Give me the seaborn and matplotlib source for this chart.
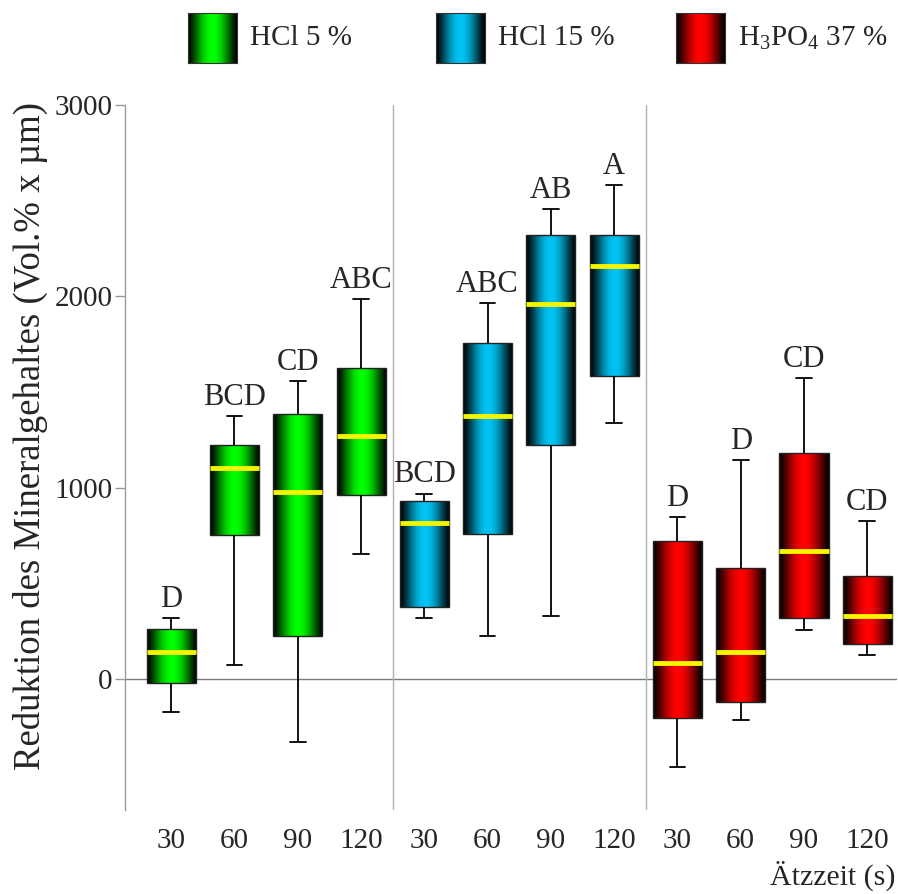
import numpy as np
import pandas as pd
import matplotlib
matplotlib.use("Agg")
import matplotlib.pyplot as plt
from matplotlib.colors import to_rgb
import seaborn as sns

# Etching agents and etching times
groups = ["HCl 5 %", "HCl 15 %", "H3PO4 37 %"]
group_labels = ["HCl 5 %", "HCl 15 %", "H$_3$PO$_4$ 37 %"]
times = [30, 60, 90, 120]

# Box statistics (mineral loss, Vol.% x µm), one row per etching agent
whisker_low = [
    [-171, 72, -328, 655],
    [317, 222, 327, 1338],
    [-458, -214, 256, 125],
]
q1 = [
    [-19, 753, 225, 962],
    [378, 757, 1225, 1586],
    [-206, -118, 317, 183],
]
median = [
    [143, 1101, 976, 1272],
    [813, 1377, 1962, 2156],
    [82, 139, 671, 329],
]
q3 = [
    [262, 1221, 1383, 1624],
    [928, 1757, 2320, 2321],
    [720, 578, 1180, 540],
]
whisker_high = [
    [317, 1375, 1557, 1986],
    [969, 1967, 2457, 2581],
    [845, 1145, 1573, 826],
]
letters = [
    ["D", "BCD", "CD", "ABC"],
    ["BCD", "ABC", "AB", "A"],
    ["D", "D", "CD", "CD"],
]
center_colors = ["#00ff00", "#00c4f4", "#ff0000"]

# Long-form table: five summary values per box reproduce the quartiles exactly
rows = []
order = []
for gi, g in enumerate(groups):
    for ti, t in enumerate(times):
        slot = f"{g} {t}"
        order.append(slot)
        for v in (whisker_low[gi][ti], q1[gi][ti], median[gi][ti],
                  q3[gi][ti], whisker_high[gi][ti]):
            rows.append({"slot": slot, "group": g, "value": v})
df = pd.DataFrame(rows)

sns.set_style("white")
plt.rcParams["font.family"] = ["Liberation Serif", "DejaVu Serif"]
plt.rcParams["mathtext.fontset"] = "custom"
plt.rcParams["mathtext.rm"] = "Liberation Serif"
plt.rcParams["mathtext.it"] = "Liberation Serif:italic"

W, H = 898, 894
fig = plt.figure(figsize=(W / 100, H / 100), dpi=100)
ax = fig.add_axes([125 / W, 1 - 810 / H, (897 - 125) / W, (810 - 105) / H])

grey = "#9a9a9a"
ax.axhline(0, color="#7a7a7a", lw=1.0, zorder=1)
for xs in (3.5, 7.5):
    ax.axvline(xs, color="#b0b0b0", lw=1.0, zorder=1)

sns.boxplot(
    data=df, x="slot", y="value", hue="group", order=order, hue_order=groups,
    palette=center_colors, dodge=False, width=0.775, whis=(0, 100),
    linecolor="black", linewidth=1.3, fliersize=0, legend=False, ax=ax,
    medianprops=dict(color="#f5f500", linewidth=3.5, solid_capstyle="butt"),
    capwidths=0.25,
)


def gradient_image(color, n=256):
    t = np.linspace(-1, 1, n)
    p = np.clip(np.cos(np.pi / 2 * t), 0, 1) ** 1.3
    rgb = np.array(to_rgb(color))
    return (p[:, None] * rgb[None, :])[None, :, :]


# Replace the flat fill by a dark-bright-dark horizontal gradient
for patch in list(ax.patches):
    ext = patch.get_path().get_extents()
    cx = (ext.x0 + ext.x1) / 2
    gi = int(round(cx)) // 4
    patch.set_facecolor("none")
    patch.set_edgecolor("#222222")
    patch.set_linewidth(1.0)
    im = ax.imshow(gradient_image(center_colors[gi]),
                   extent=[ext.x0, ext.x1, ext.y0, ext.y1],
                   aspect="auto", interpolation="bilinear", zorder=1.95)
    im.set_clip_path(patch)

# Significance letters above the upper whiskers
for gi in range(len(groups)):
    for ti in range(len(times)):
        ax.annotate(letters[gi][ti], xy=(gi * 4 + ti, whisker_high[gi][ti]),
                    xytext=(0, 8), textcoords="offset points",
                    ha="center", va="baseline", fontsize=22)

ax.set_xlim(-0.73, 11.47)
ax.set_ylim(-685, 3000)
ax.set_yticks([0, 1000, 2000, 3000])
ax.set_xticks(range(12))
ax.set_xticklabels([str(t) for _ in groups for t in times])
ax.tick_params(axis="x", length=0, pad=13, labelsize=21)
ax.tick_params(axis="y", length=7, width=1, color=grey, pad=2, labelsize=21,
               direction="out", left=True)
ax.set_xlabel("")
ax.set_ylabel("Reduktion des Mineralgehaltes (Vol.% x µm)", fontsize=26.5)
ax.yaxis.label.set_va("center")
ax.yaxis.set_label_coords(-0.122, 0.53)

for side in ("top", "right", "bottom"):
    ax.spines[side].set_visible(False)
ax.spines["left"].set_color(grey)
ax.spines["left"].set_linewidth(1.0)

fig.text(896 / W, 1 - 885 / H, "Ätzzeit (s)", ha="right", va="baseline",
         fontsize=21.5)

# Legend along the top
legend_x = [188, 436, 676]
for gi, lx in enumerate(legend_x):
    sw = fig.add_axes([lx / W, 1 - 63 / H, 49 / W, 50 / H])
    sw.imshow(gradient_image(center_colors[gi]), aspect="auto",
              interpolation="bilinear", extent=[0, 1, 0, 1])
    sw.set_xticks([])
    sw.set_yticks([])
    for s in sw.spines.values():
        s.set_color("#333333")
        s.set_linewidth(0.8)
    fig.text((lx + 62) / W, 1 - 38 / H, group_labels[gi], ha="left",
             va="center", fontsize=21)

fig.savefig("out.png", dpi=100)
